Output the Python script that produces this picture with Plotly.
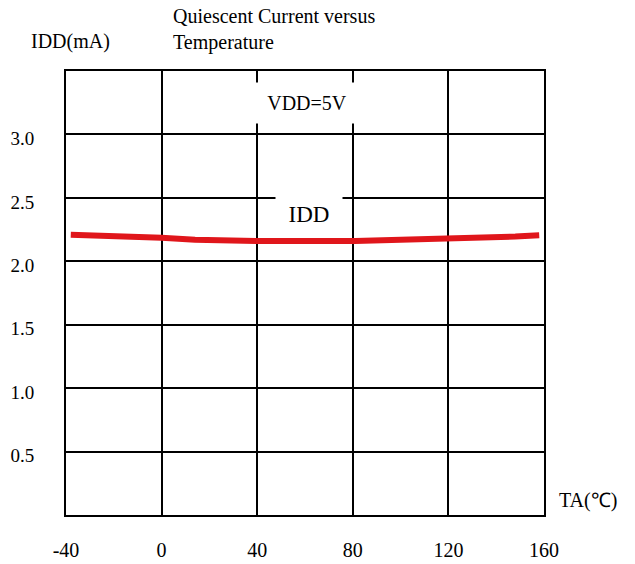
import plotly.graph_objects as go

# Data
temps = [-38, -16, 0, 14, 40, 81, 106, 124, 148, 158]
idd_ma = [2.21, 2.20, 2.185, 2.17, 2.16, 2.16, 2.17, 2.18, 2.195, 2.205]

x_ticks = [-40, 0, 40, 80, 120, 160]
x_tick_text = ["-40", "0", "40", "80", "120", "160"]
y_ticks = [0.5, 1.0, 1.5, 2.0, 2.5, 3.0]
y_tick_text = ["0.5", "1.0", "1.5", "2.0", "2.5", "3.0"]

FONT = "Liberation Serif"

fig = go.Figure()
fig.add_trace(go.Scatter(
    x=temps, y=idd_ma, mode="lines",
    line=dict(color="#e0161b", width=6),
    showlegend=False, hoverinfo="skip",
))

fig.update_layout(
    width=635, height=564,
    margin=dict(l=66, r=91, t=71, b=49),
    paper_bgcolor="white", plot_bgcolor="white",
    font=dict(family=FONT, size=20, color="black"),
    xaxis=dict(
        range=[-40, 160], tickvals=x_ticks, ticktext=x_tick_text,
        showgrid=True, gridcolor="black", gridwidth=1.6,
        showline=True, linecolor="black", linewidth=2, mirror=True,
        zeroline=False, ticks="", ticklabelstandoff=16, automargin=False,
        tickfont=dict(family=FONT, size=20, color="black"),
        fixedrange=True,
    ),
    yaxis=dict(
        range=[0, 3.5], tickvals=y_ticks, ticktext=y_tick_text,
        showgrid=True, gridcolor="black", gridwidth=1.6,
        showline=True, linecolor="black", linewidth=2, mirror=True,
        zeroline=False, ticks="", ticklabelstandoff=26, ticklabelshift=4,
        automargin=False,
        tickfont=dict(family=FONT, size=19, color="black"),
        fixedrange=True,
    ),
)

def ann(text, x, y, xanchor="left", size=20, **kw):
    fig.add_annotation(text=text, x=x, y=y, xref="paper", yref="paper",
                       xanchor=xanchor, yanchor="middle", showarrow=False,
                       font=dict(family=FONT, size=size, color="black"), **kw)

# Titles / axis labels (paper coords; plot area spans x 66..544, y 71..515)
ann("Quiescent Current versus", (171 - 66) / 478, (515 - 16) / 444)
ann("Temperature", (171 - 66) / 478, (515 - 43) / 444)
ann("IDD(mA)", (29 - 66) / 478, (515 - 42) / 444)
ann("TA(\u2103)", (557 - 66) / 478, (515 - 500) / 444)

# In-plot labels with white boxes that break the grid lines
fig.add_annotation(text="VDD=5V", x=(307 - 66) / 478, y=(515 - 103) / 444,
                   xref="paper", yref="paper", showarrow=False,
                   xanchor="center", yanchor="middle",
                   width=106, height=40, bgcolor="white", borderpad=0,
                   font=dict(family=FONT, size=20, color="black"))
fig.add_annotation(text="IDD", x=(309 - 66) / 478, y=(515 - 214) / 444,
                   xref="paper", yref="paper", showarrow=False,
                   xanchor="center", yanchor="middle",
                   width=66, height=38, bgcolor="white", borderpad=0,
                   font=dict(family=FONT, size=23, color="black"))

fig.write_html("out.html", config={"displayModeBar": False},
               post_script="document.body.style.margin='0';")
